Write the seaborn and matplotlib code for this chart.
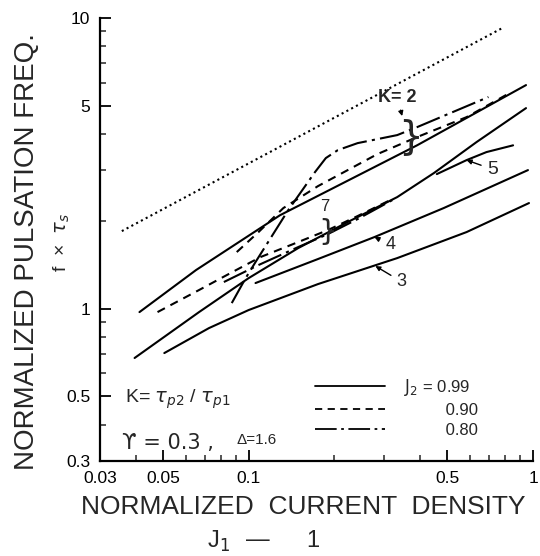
import matplotlib
matplotlib.use("Agg")
import matplotlib.pyplot as plt
import seaborn as sns
import pandas as pd
from matplotlib.lines import Line2D
from matplotlib.ticker import FixedLocator, FixedFormatter, NullFormatter

# ---------------- data ----------------
k2_099_x = [0.0413, 0.0653, 0.129, 0.391, 0.945]
k2_099_y = [0.975, 1.36, 2.10, 3.65, 5.88]
k2_090_x = [0.0908, 0.1083, 0.1324, 0.1753, 0.2836, 0.391, 0.584, 0.838]
k2_090_y = [1.568, 1.837, 2.221, 2.643, 3.405, 3.896, 4.563, 5.56]
k2_080_x = [0.0872, 0.0976, 0.1057, 0.1378, 0.1711, 0.1868, 0.2058, 0.2416, 0.333, 0.391, 0.697]
k2_080_y = [1.047, 1.276, 1.449, 2.186, 2.953, 3.30, 3.514, 3.714, 3.958, 4.215, 5.35]
k7_099_x = [0.0397, 0.0669, 0.1000, 0.1493, 0.2229, 0.333, 0.448, 0.633, 0.945]
k7_099_y = [0.678, 0.975, 1.276, 1.618, 1.988, 2.423, 2.93, 3.745, 4.90]
k7_090_x = [0.0478, 0.0669, 0.0851, 0.110, 0.1493, 0.1899, 0.2416, 0.320]
k7_090_y = [0.975, 1.161, 1.318, 1.507, 1.697, 1.866, 2.085, 2.385]
k7_080_x = [0.0818, 0.1083, 0.1493, 0.1899, 0.2416, 0.320]
k7_080_y = [1.237, 1.415, 1.631, 1.808, 2.036, 2.366]
k5_099_x = [0.459, 0.584, 0.686, 0.851]
k5_099_y = [2.907, 3.247, 3.46, 3.65]
k4_099_x = [0.1057, 0.1753, 0.277, 0.485, 0.960]
k4_099_y = [1.227, 1.484, 1.766, 2.221, 3.0]
k3_099_x = [0.0505, 0.0725, 0.100, 0.1753, 0.333, 0.584, 0.968]
k3_099_y = [0.705, 0.859, 0.991, 1.217, 1.495, 1.837, 2.311]
ref_x = [0.0358, 0.779]
ref_y = [1.851, 9.23]

x_major = [0.03, 0.05, 0.1, 0.5, 1]
x_major_labels = ["0.03", "0.05", "0.1", "0.5", "1"]
x_minor = [0.04, 0.06, 0.07, 0.08, 0.09, 0.2, 0.3, 0.4, 0.6, 0.7, 0.8, 0.9]
y_major = [0.3, 0.5, 1, 5, 10]
y_major_labels = ["0.3", "0.5", "1", "5", "10"]
y_minor = [0.4, 0.6, 0.7, 0.8, 0.9, 2, 3, 4, 6, 7, 8, 9]
legend_labels = [r"$\mathrm{J_2}$ = 0.99", "         0.90", "         0.80"]

# ---------------- styling ----------------
sns.set_style("ticks")
plt.rcParams['font.family'] = ['Liberation Sans', 'DejaVu Sans']

SOLID = '-'
DASHED = (0, (4, 3))
DASHDOT = (0, (12, 2.5, 1.5, 2.5))
DOTTED = (0, (1, 1.6))

fig = plt.figure(figsize=(5.4, 5.56), dpi=100)
ax = fig.add_axes([100/540, 1-461/556, 433/540, 443/556])
ax.set_xscale('log')
ax.set_yscale('log')


def draw(xv, yv, ls, lw=1.5):
    df = pd.DataFrame({'x': xv, 'y': yv})
    sns.lineplot(data=df, x='x', y='y', ax=ax, color='black', linestyle=ls,
                 linewidth=lw, estimator=None, sort=False, legend=False)


draw(ref_x, ref_y, DOTTED, 1.5)
draw(k2_099_x, k2_099_y, SOLID)
draw(k2_090_x, k2_090_y, DASHED)
draw(k2_080_x, k2_080_y, DASHDOT)
draw(k7_099_x, k7_099_y, SOLID)
draw(k7_090_x, k7_090_y, DASHED)
draw(k7_080_x, k7_080_y, DASHDOT)
draw(k5_099_x, k5_099_y, SOLID)
draw(k4_099_x, k4_099_y, SOLID)
draw(k3_099_x, k3_099_y, SOLID)

ax.set_xlim(0.03, 1)
ax.set_ylim(0.3, 10)
ax.xaxis.set_major_locator(FixedLocator(x_major))
ax.xaxis.set_major_formatter(FixedFormatter(x_major_labels))
ax.xaxis.set_minor_locator(FixedLocator(x_minor))
ax.xaxis.set_minor_formatter(NullFormatter())
ax.yaxis.set_major_locator(FixedLocator(y_major))
ax.yaxis.set_major_formatter(FixedFormatter(y_major_labels))
ax.yaxis.set_minor_locator(FixedLocator(y_minor))
ax.yaxis.set_minor_formatter(NullFormatter())
ax.tick_params(which='major', direction='in', length=8, width=1.3, labelsize=12.5, pad=7, colors='black')
ax.tick_params(which='minor', direction='in', length=4, width=1.1)
ax.set_xlabel('')
ax.set_ylabel('')
for s in ['top', 'right']:
    ax.spines[s].set_visible(False)
for s in ['left', 'bottom']:
    ax.spines[s].set_linewidth(1.6)
    ax.spines[s].set_color('black')

# ---------------- annotations ----------------
ax.annotate("K= 2", xy=(0.3466, 4.60), xytext=(0.333, 5.35), ha='center', va='center',
            fontsize=13, fontweight='bold',
            arrowprops=dict(arrowstyle='-|>', color='black', lw=1, mutation_scale=7, shrinkA=1, shrinkB=0))
ax.text(0.370, 3.90, "}", ha='center', va='center', fontsize=28, family=['DejaVu Sans'])
ax.text(0.1854, 2.25, "7", ha='center', va='center', fontsize=12)
ax.text(0.1899, 1.84, "}", ha='center', va='center', fontsize=21, family=['DejaVu Sans'])
ax.annotate("5", xy=(0.584, 3.247), xytext=(0.72, 3.02), ha='center', va='center', fontsize=14,
            arrowprops=dict(arrowstyle='-|>', color='black', lw=1, mutation_scale=7, shrinkA=2, shrinkB=0))
ax.annotate("4", xy=(0.277, 1.766), xytext=(0.315, 1.66), ha='center', va='center', fontsize=13,
            arrowprops=dict(arrowstyle='-|>', color='black', lw=1, mutation_scale=7, shrinkA=2, shrinkB=0))
ax.annotate("3", xy=(0.279, 1.404), xytext=(0.345, 1.24), ha='center', va='center', fontsize=13,
            arrowprops=dict(arrowstyle='-|>', color='black', lw=1, mutation_scale=7, shrinkA=2, shrinkB=0))

ax.text(0.057, 0.140, r"K= $\tau_{p2}$ / $\tau_{p1}$", transform=ax.transAxes,
        ha='left', va='center', fontsize=14)
ax.text(0.050, 0.040, "ϒ = 0.3 ,", transform=ax.transAxes, ha='left', va='center',
        fontsize=15, family=['DejaVu Sans'])
ax.text(0.315, 0.048, "Δ=1.6", transform=ax.transAxes, ha='left', va='center', fontsize=11)

handles = [Line2D([], [], color='black', lw=1.3, linestyle=SOLID),
           Line2D([], [], color='black', lw=1.3, linestyle=DASHED),
           Line2D([], [], color='black', lw=1.3, linestyle=DASHDOT)]
ax.legend(handles, legend_labels, loc='upper left', bbox_to_anchor=(0.497, 0.19),
          frameon=False, fontsize=12, handlelength=4.2, handletextpad=1.1,
          labelspacing=0.3, borderpad=0, borderaxespad=0)

# ---------------- axis titles ----------------
fig.text(303/540, 1-507/556, "NORMALIZED  CURRENT  DENSITY", ha='center', va='center',
         fontsize=19)
fig.text(218/540, 1-541/556, r"J$_1$", ha='center', va='center', fontsize=17)
fig.text(258/540, 1-540/556, "—", ha='center', va='center', fontsize=17)
fig.text(313/540, 1-541/556, "1", ha='center', va='center', fontsize=17)
fig.text(27/540, 1-252/556, "NORMALIZED PULSATION FREQ.", rotation=90, ha='center', va='center',
         fontsize=20)
fig.text(62/540, 1-242/556, r"f  ×  $\tau_s$", rotation=90, ha='center', va='center', fontsize=14)

fig.savefig("out.png", dpi=100, facecolor='white')
